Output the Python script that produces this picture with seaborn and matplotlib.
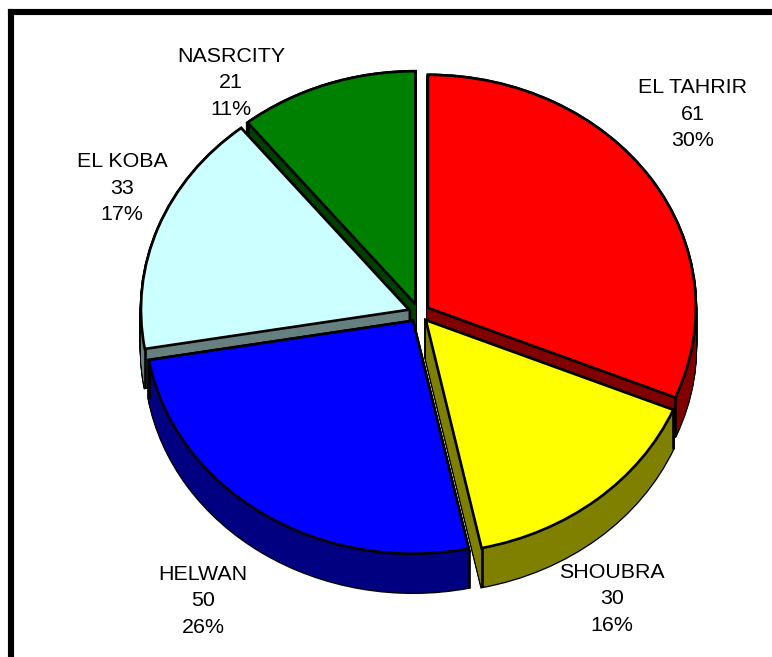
import numpy as np
import seaborn as sns
import matplotlib
matplotlib.use("Agg")
import matplotlib.pyplot as plt

# =========================
# Data
# =========================
districts = ["EL TAHRIR", "SHOUBRA", "HELWAN", "EL KOBA", "NASRCITY"]
counts = [61, 30, 50, 33, 21]
percents = ["30%", "16%", "26%", "17%", "11%"]

top_colors = ["#FF0000", "#FFFF00", "#0000FF", "#CCFFFF", "#008000"]
side_colors = ["#800000", "#808000", "#000080", "#668080", "#004000"]

# back to front
draw_rank = [2, 4, 3, 1, 0]

# label centres in pixels
label_x = [693, 612, 203, 122, 231]
label_y = [114, 599, 601, 188, 83]

# =========================
# Layout (pixels)
# =========================
W, H = 772, 657
CX, CY = 419, 313
RX, RY = 268, 233
DEPTH = 39
EXPLODE = 0.04
LINE = 1.9

sns.set_style("white")
plt.rcParams['font.family'] = ['Liberation Sans', 'DejaVu Sans']

fig = plt.figure(figsize=(W / 100, H / 100), dpi=100)
ax = fig.add_axes([11 / W, 0, (W - 11) / W, (H - 12) / H])


def draw_layer(dy, edge, lw, z_offset, fill):
    wedges, _ = ax.pie(
        counts,
        startangle=90,
        counterclock=False,
        center=(0, dy),
        explode=[EXPLODE] * len(counts),
        colors=fill,
        frame=True,
        wedgeprops={'edgecolor': edge, 'linewidth': lw},
    )
    for w, rank in zip(wedges, draw_rank):
        w.set_zorder(rank * 10 + z_offset)
    return wedges


# =========================
# Sides, then top faces
# =========================
layers = np.arange(DEPTH + 1) / RY
for dy in -layers:
    draw_layer(dy, 'black', LINE, 1, ['black'] * 5)
for dy in -layers:
    draw_layer(dy, 'none', 0, 2, side_colors)

tops = draw_layer(0, 'black', LINE, 4, top_colors)

# vertical edges at the outer corners of each slice
for w, rank in zip(tops, draw_rank):
    for angle in (w.theta1, w.theta2):
        x = w.center[0] + np.cos(np.radians(angle))
        y = w.center[1] + np.sin(np.radians(angle))
        ax.plot([x, x], [y, y - DEPTH / RY], color='black', lw=LINE,
                solid_capstyle='butt', zorder=rank * 10 + 3)

# =========================
# Axes and frame
# =========================
ax.set_aspect('auto')
ax.set_xlim((11 - CX) / RX, (W - CX) / RX)
ax.set_ylim((CY - H) / RY, (CY - 12) / RY)
ax.set_xticks([])
ax.set_yticks([])
ax.patch.set_alpha(0)
for side in ['right', 'bottom']:
    ax.spines[side].set_visible(False)
for side in ['left', 'top']:
    ax.spines[side].set_color('black')
    ax.spines[side].set_linewidth(4.4)

# =========================
# Labels
# =========================
for name, n, pct, lx, ly in zip(districts, counts, percents, label_x, label_y):
    fig.text(lx / W, 1 - ly / H, f"{name}\n{n}\n{pct}", ha='center', va='center',
             fontsize=15.4, color='black', linespacing=1.53, zorder=100)

fig.savefig("out.png", dpi=100)
